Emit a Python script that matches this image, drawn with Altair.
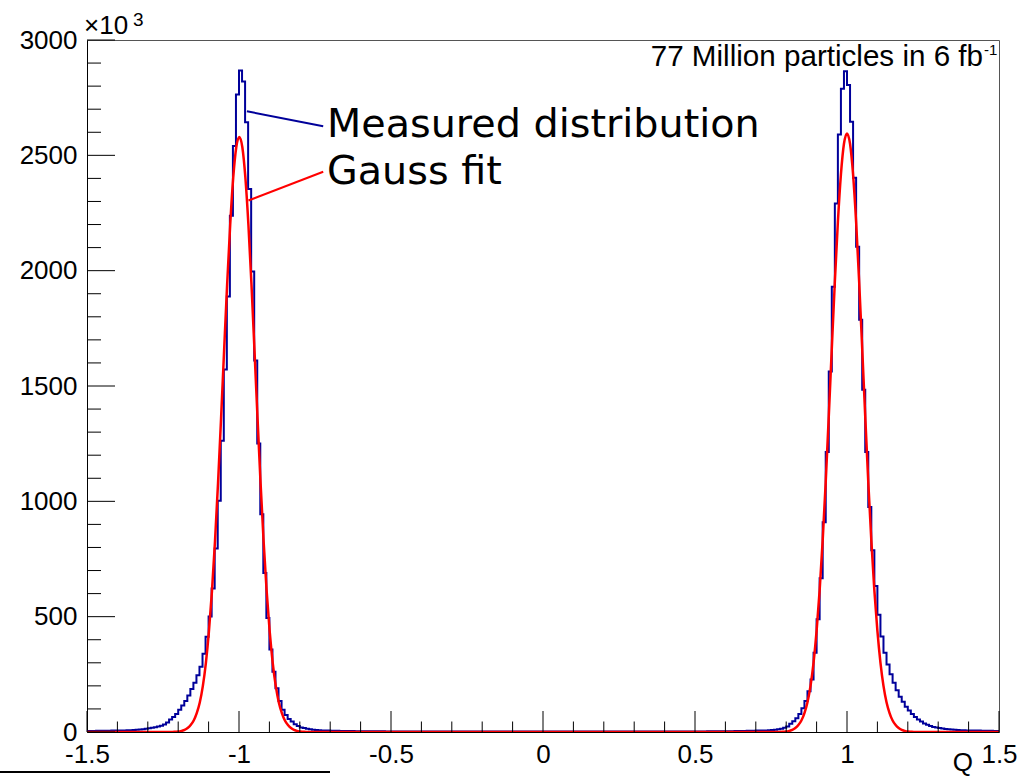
import altair as alt
import pandas as pd

# ---------------- data ----------------
hist_start = -1.5
bin_width = 0.01
# counts (x1000) per bin, bins [-1.50,-1.49) ... [1.49,1.50)
hist_counts = [
    4, 4, 4, 5, 5, 5, 5, 5, 6, 6,            # -1.50 .. -1.41
    6, 7, 7, 8, 8, 9, 10, 11, 12, 14,        # -1.40 .. -1.31
    16, 18, 21, 24, 27, 32, 41, 54, 65, 78,  # -1.30 .. -1.21
    97, 115, 134, 158, 186, 214, 246, 283, 339, 413,        # -1.20 .. -1.11
    501, 622, 795, 1002, 1263, 1572, 1888, 2238, 2540, 2764,  # -1.10 .. -1.01
    2868, 2820, 2643, 2354, 1996, 1611, 1251, 944, 689, 494,  # -1.00 .. -0.91
    358, 261, 190, 134, 97, 74, 56, 45, 34, 26,   # -0.90 .. -0.81
    20, 17, 14, 12, 10, 9, 8, 7, 6, 6,            # -0.80 .. -0.71
    5, 5, 5, 4, 4, 4, 4, 4, 3, 3,                 # -0.70 .. -0.61
    3, 3, 3, 3, 3, 3, 3, 3, 2, 2,                 # -0.60 .. -0.51
    2, 2, 2, 2, 2, 2, 2, 2, 2, 2,                 # -0.50 .. -0.41
    2, 2, 2, 2, 2, 2, 2, 2, 2, 2,
    2, 2, 2, 2, 2, 2, 2, 2, 2, 2,
    2, 2, 2, 2, 2, 2, 2, 2, 2, 2,
    2, 2, 2, 2, 2, 2, 2, 2, 2, 2,                 # -0.10 .. -0.01
    2, 2, 2, 2, 2, 2, 2, 2, 2, 2,                 # 0.00 .. 0.09
    2, 2, 2, 2, 2, 2, 2, 2, 2, 2,
    2, 2, 2, 2, 2, 2, 2, 2, 2, 2,
    2, 2, 2, 2, 2, 2, 2, 2, 2, 2,
    2, 2, 2, 2, 2, 2, 2, 2, 2, 2,                 # 0.40 .. 0.49
    2, 2, 2, 2, 3, 3, 3, 3, 3, 3,                 # 0.50 .. 0.59
    3, 3, 3, 4, 4, 4, 4, 5, 5, 5,                 # 0.60 .. 0.69
    6, 6, 7, 7, 8, 9, 10, 12, 14, 18,             # 0.70 .. 0.79
    24, 36, 47, 60, 78, 103, 134, 177, 228, 344,  # 0.80 .. 0.89
    489, 667, 909, 1214, 1563, 1930, 2291, 2590, 2789, 2864,  # 0.90 .. 0.99
    2805, 2646, 2403, 2104, 1787, 1484, 1214, 975, 788, 633,  # 1.00 .. 1.09
    508, 414, 344, 293, 250, 213, 181, 153, 131, 110,         # 1.10 .. 1.19
    93, 78, 65, 54, 45, 37, 31, 26, 22, 19,       # 1.20 .. 1.29
    17, 15, 13, 12, 11, 10, 9, 8, 8, 7,           # 1.30 .. 1.39
    7, 6, 6, 6, 5, 5, 5, 5, 4, 4,                 # 1.40 .. 1.49
]

# Gauss fit, sampled from the red curve around each peak
fit_offsets = [round(-0.25 + 0.01 * i, 2) for i in range(51)]
fit_left_center = -0.999
fit_right_center = 1.0
fit_left_values = [0, 0, 0, 0, 1, 2, 5, 9, 17, 30, 50, 82, 128, 199, 299, 435, 610, 826,
                   1078, 1359, 1653, 1941, 2198, 2403, 2535, 2580, 2535, 2403, 2198, 1941,
                   1653, 1359, 1078, 826, 610, 435, 299, 199, 128, 82, 50, 30, 17, 9, 5,
                   2, 1, 0, 0, 0, 0]
fit_right_values = [0, 0, 0, 0, 1, 2, 5, 9, 17, 30, 50, 82, 129, 200, 301, 438, 614, 831,
                    1084, 1367, 1663, 1952, 2211, 2417, 2550, 2595, 2550, 2417, 2211, 1952,
                    1663, 1367, 1084, 831, 614, 438, 301, 200, 129, 82, 50, 30, 17, 9, 5,
                    2, 1, 0, 0, 0, 0]

x_major_ticks = [-1.5, -1.0, -0.5, 0.0, 0.5, 1.0, 1.5]
x_minor_ticks = [-1.4, -1.3, -1.2, -1.1, -0.9, -0.8, -0.7, -0.6, -0.4, -0.3, -0.2, -0.1,
                 0.1, 0.2, 0.3, 0.4, 0.6, 0.7, 0.8, 0.9, 1.1, 1.2, 1.3, 1.4]
y_major_ticks = [0, 500, 1000, 1500, 2000, 2500, 3000]
y_minor_ticks = [v for v in range(100, 3000, 100) if v % 500 != 0]

legend_labels = ["Measured distribution", "Gauss fit"]
info_text = "77 Million particles in 6 fb"
info_sup = "-1"
exp_text = "\u00d710"
exp_sup = "3"
x_title = "Q"

# ---------------- tables ----------------
hist_df = pd.DataFrame({
    "q": [round(hist_start + bin_width * i, 2) for i in range(len(hist_counts))] + [1.5],
    "n": hist_counts + [hist_counts[-1]],
})

fit_q = [-1.5] + [fit_left_center + o for o in fit_offsets] + [0.0] + \
        [fit_right_center + o for o in fit_offsets] + [1.5]
fit_n = [0] + fit_left_values + [0] + fit_right_values + [0]
fit_df = pd.DataFrame({"q": fit_q, "n": fit_n})

W, H = 912, 692
FONT = "Liberation Sans"
xs = alt.Scale(domain=[-1.5, 1.5], nice=False, zero=False)
ys = alt.Scale(domain=[0, 3000], nice=False, zero=True)
x_axis = alt.Axis(
    values=x_major_ticks, ticks=False, grid=False, domainColor="black",
    domainWidth=1, labelFont=FONT, labelFontSize=26, labelColor="black",
    labelPadding=9, labelExpr="toString(datum.value)", labelFlush=False,
    labelOverlap=False, title=None)
y_axis = alt.Axis(
    values=y_major_ticks, ticks=False, grid=False, domainColor="black",
    domainWidth=1, labelFont=FONT, labelFontSize=26, labelColor="black",
    labelPadding=10, labelFlush=False, labelOverlap=False, format="d", title=None)


def X(field):
    return alt.X(field, scale=xs, axis=x_axis)


def Y(field):
    return alt.Y(field, scale=ys, axis=y_axis)


hist = alt.Chart(hist_df).mark_line(
    interpolate="step-after", color="#00009a", strokeWidth=2, clip=True
).encode(x=X("q:Q"), y=Y("n:Q"))

fit = alt.Chart(fit_df).mark_line(
    interpolate="monotone", color="#ff0000", strokeWidth=2.5, clip=True
).encode(x=X("q:Q"), y=Y("n:Q"))

# inward ticks (ROOT style)
ymaj = alt.Chart(pd.DataFrame({"v": y_major_ticks})).mark_rule(color="black", strokeWidth=1).encode(
    y=Y("v:Q"), x=alt.value(0), x2=alt.value(28))
ymin = alt.Chart(pd.DataFrame({"v": y_minor_ticks})).mark_rule(color="black", strokeWidth=1).encode(
    y=Y("v:Q"), x=alt.value(0), x2=alt.value(14))
xmaj = alt.Chart(pd.DataFrame({"v": x_major_ticks})).mark_rule(color="black", strokeWidth=1).encode(
    x=X("v:Q"), y=alt.value(H), y2=alt.value(H - 21))
xmin = alt.Chart(pd.DataFrame({"v": x_minor_ticks})).mark_rule(color="black", strokeWidth=1).encode(
    x=X("v:Q"), y=alt.value(H), y2=alt.value(H - 10.5))

# legend-like annotations
ann_m = pd.DataFrame({"q": [-0.974, -0.723], "n": [2691, 2626]})
ann_f = pd.DataFrame({"q": [-0.969, -0.723], "n": [2304, 2429]})
line_m = alt.Chart(ann_m).mark_line(color="#00009a", strokeWidth=2).encode(x=X("q:Q"), y=Y("n:Q"))
line_f = alt.Chart(ann_f).mark_line(color="#ff0000", strokeWidth=2).encode(x=X("q:Q"), y=Y("n:Q"))


def label(text, font, size, align, px, py):
    return alt.Chart(pd.DataFrame({"t": [text]})).mark_text(
        font=font, fontSize=size, align=align, baseline="alphabetic", color="black"
    ).encode(text="t:N", x=alt.value(px), y=alt.value(py))


lab_m = label(legend_labels[0], "DejaVu Sans", 39.7, "left", 240, 97)
lab_f = label(legend_labels[1], "DejaVu Sans", 39.7, "left", 240, 144)
info = label(info_text, FONT, 29.6, "right", 896, 26)
info2 = label(info_sup, FONT, 15, "left", 897, 15)
expo = label(exp_text, FONT, 26, "left", -3, -6)
expo2 = label(exp_sup, FONT, 19, "left", 46, -14)
qtitle = label(x_title, FONT, 26, "right", W - 26, H + 39)

under = alt.Chart(pd.DataFrame({"t": [""]})).mark_rule(color="black", strokeWidth=2).encode(
    x=alt.value(-87), x2=alt.value(243), y=alt.value(H + 40))

chart = alt.layer(
    hist, fit, ymaj, ymin, xmaj, xmin, line_m, line_f, lab_m, lab_f,
    info, info2, expo, expo2, qtitle, under
).properties(
    width=W, height=H,
    autosize=alt.AutoSizeParams(type="none"),
    padding={"left": 87, "top": 40, "right": 36, "bottom": 46},
    background="white",
).configure_view(stroke="#555555", strokeWidth=1)

chart.save("out.html", embed_options={"renderer": "svg", "actions": False})
